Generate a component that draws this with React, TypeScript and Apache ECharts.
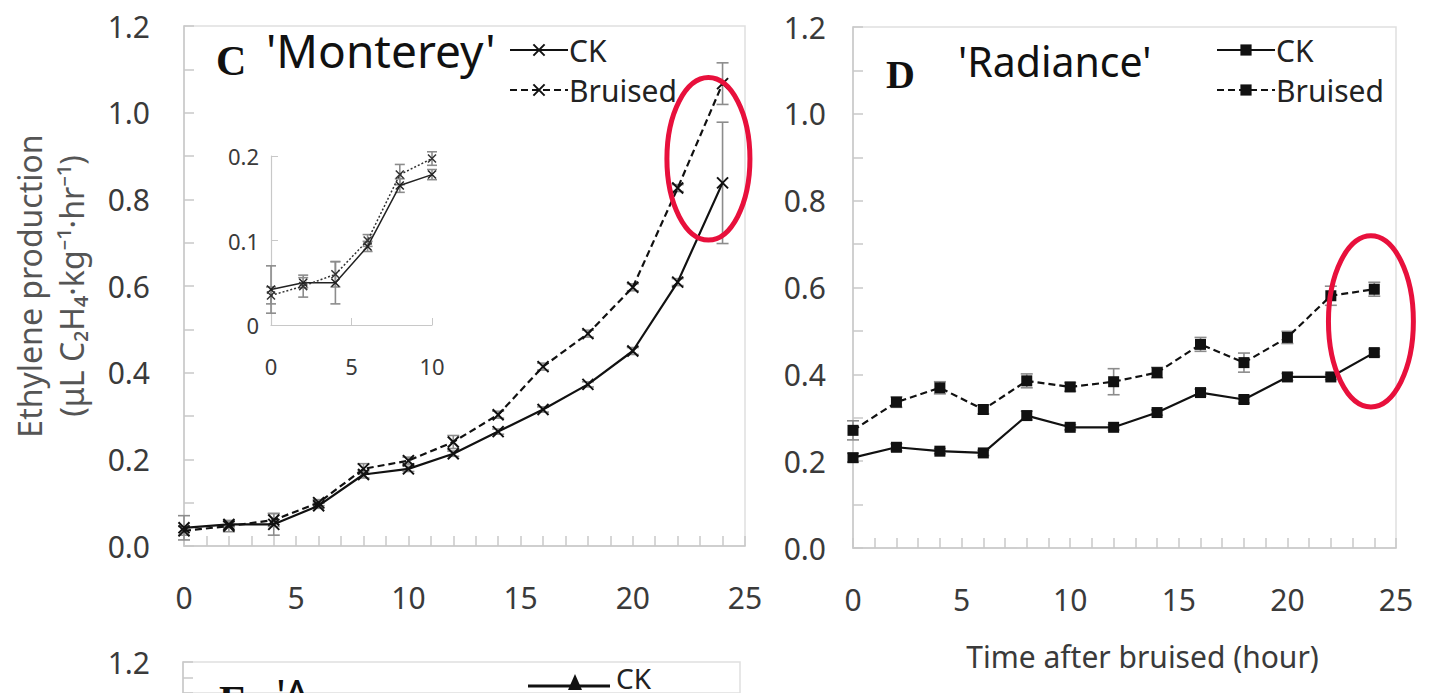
import React, { useEffect, useRef } from "react";
import * as echarts from "echarts";

const hours = [0, 2, 4, 6, 8, 10, 12, 14, 16, 18, 20, 22, 24];
const monCK = [0.042, 0.05, 0.05, 0.093, 0.165, 0.178, 0.213, 0.264, 0.315, 0.373, 0.45, 0.609, 0.838];
const monBr = [0.035, 0.046, 0.06, 0.1, 0.178, 0.197, 0.24, 0.303, 0.414, 0.49, 0.597, 0.826, 1.067];
const monCKErr = [0.028, 0.006, 0.025, 0.006, 0.008, 0.006, 0.006, 0.006, 0.006, 0.006, 0.008, 0.008, 0.14];
const monBrErr = [0.01, 0.013, 0.015, 0.007, 0.012, 0.008, 0.015, 0.008, 0.008, 0.008, 0.008, 0.008, 0.048];
const radCK = [0.208, 0.232, 0.223, 0.219, 0.305, 0.278, 0.278, 0.312, 0.358, 0.342, 0.394, 0.394, 0.45];
const radBr = [0.271, 0.336, 0.369, 0.319, 0.385, 0.371, 0.383, 0.404, 0.469, 0.427, 0.485, 0.581, 0.596];
const radCKErr = [0.01, 0.008, 0.006, 0.006, 0.01, 0.006, 0.006, 0.006, 0.008, 0.008, 0.008, 0.006, 0.008];
const radBrErr = [0.022, 0.012, 0.014, 0.01, 0.016, 0.01, 0.03, 0.012, 0.016, 0.022, 0.014, 0.022, 0.016];
const insetCount = 6; // inset shows hours 0..10
const yTicksMain = [0, 0.2, 0.4, 0.6, 0.8, 1.0, 1.2];
const legendNames = ["CK", "Bruised"];

const FONT = "Noto Sans";
const CROSS = "path://M0,0L10,10M10,0L0,10";

const pairs = (xs: number[], ys: number[]) => xs.map((x, i) => [x, ys[i]]);
const errs = (xs: number[], ys: number[], es: number[]) => xs.map((x, i) => [x, ys[i] - es[i], ys[i] + es[i]]);

const errRender = (cap: number) => (params: any, api: any) => {
  const x = api.value(0);
  const p1 = api.coord([x, api.value(1)]);
  const p2 = api.coord([x, api.value(2)]);
  const st = { stroke: "#8c8c8c", lineWidth: 1.6 };
  return {
    type: "group",
    children: [
      { type: "line", shape: { x1: p1[0], y1: p1[1], x2: p2[0], y2: p2[1] }, style: st },
      { type: "line", shape: { x1: p1[0] - cap, y1: p1[1], x2: p1[0] + cap, y2: p1[1] }, style: st },
      { type: "line", shape: { x1: p2[0] - cap, y1: p2[1], x2: p2[0] + cap, y2: p2[1] }, style: st },
    ],
  };
};

const axisGrey = "#c8c8c8";
const labelColor = "#3a3a3a";

function mainX(gridIndex: number, extra: any = {}) {
  return {
    type: "value",
    gridIndex,
    min: 0,
    max: 25,
    interval: 5,
    axisLine: { show: true, lineStyle: { color: axisGrey, width: 1.5 } },
    axisTick: { show: true, inside: true, length: 10, lineStyle: { color: axisGrey, width: 1.5 } },
    minorTick: { show: true, splitNumber: 5, length: 10, lineStyle: { color: axisGrey, width: 1.5 } },
    splitLine: { show: false },
    axisLabel: { fontSize: 30, fontFamily: FONT, color: labelColor, margin: 36 },
    ...extra,
  };
}

function mainY(gridIndex: number, margin: number, extra: any = {}) {
  return {
    type: "value",
    gridIndex,
    min: 0,
    max: 1.2,
    interval: 0.2,
    axisLine: { show: true, lineStyle: { color: axisGrey, width: 1.5 } },
    axisTick: { show: true, inside: true, length: 10, lineStyle: { color: axisGrey, width: 1.5 } },
    minorTick: { show: true, splitNumber: 2, length: 10, lineStyle: { color: axisGrey, width: 1.5 } },
    splitLine: { show: false },
    axisLabel: {
      fontSize: 30,
      fontFamily: FONT,
      color: labelColor,
      margin,
      formatter: (v: number) => (yTicksMain.some((t) => Math.abs(t - v) < 1e-9) ? v.toFixed(1) : ""),
    },
    ...extra,
  };
}

export default function App() {
  const ref = useRef<HTMLDivElement>(null);
  useEffect(() => {
    if (!ref.current) return;
    const chart = echarts.init(ref.current, undefined, { renderer: "svg" });
    const insetHours = hours.slice(0, insetCount);
    const option: any = {
      animation: false,
      backgroundColor: "#ffffff",
      grid: [
        { left: 184, top: 26, width: 561, height: 520, show: true, borderColor: "#e0e0e0", borderWidth: 1.5 },
        { left: 853, top: 27, width: 543, height: 521, show: true, borderColor: "#e0e0e0", borderWidth: 1.5 },
        { left: 271, top: 156, width: 161, height: 169 },
        { left: 183, top: 662, width: 557, height: 86, show: true, borderColor: "#e0e0e0", borderWidth: 1.5 },
      ],
      xAxis: [
        mainX(0),
        mainX(1, {
          name: "Time after bruised (hour)",
          nameLocation: "middle",
          nameGap: 93,
          nameTextStyle: { fontSize: 30, fontFamily: FONT, color: labelColor, padding: [0, 0, 0, 36] },
        }),
        {
          type: "value",
          gridIndex: 2,
          min: 0,
          max: 10,
          interval: 5,
          axisLine: { show: true, lineStyle: { color: axisGrey, width: 1.2 } },
          axisTick: { show: true, inside: true, length: 7, lineStyle: { color: axisGrey } },
          splitLine: { show: false },
          axisLabel: { fontSize: 22, fontFamily: FONT, color: labelColor, margin: 30 },
        },
        { type: "value", gridIndex: 3, min: 0, max: 25, show: false },
      ],
      yAxis: [
        mainY(0, 34, {
          name: "Ethylene production\n(μL C₂H₄·kg⁻¹·hr⁻¹)",
          nameLocation: "middle",
          nameRotate: 90,
          nameGap: 92,
          nameTextStyle: { fontSize: 32, fontFamily: FONT, color: "#555", lineHeight: 42 },
        }),
        mainY(1, 27),
        {
          type: "value",
          gridIndex: 2,
          min: 0,
          max: 0.2,
          interval: 0.1,
          axisLine: { show: true, lineStyle: { color: axisGrey, width: 1.2 } },
          axisTick: { show: true, inside: true, length: 7, lineStyle: { color: axisGrey } },
          splitLine: { show: false },
          axisLabel: {
            fontSize: 22,
            fontFamily: FONT,
            color: labelColor,
            margin: 12,
            formatter: (v: number) => (v === 0 ? "0" : v.toFixed(1)),
          },
        },
        mainY(3, 33, {
          min: 1.0,
          max: 1.2,
          axisLabel: {
            fontSize: 30,
            fontFamily: FONT,
            color: labelColor,
            margin: 33,
            formatter: (v: number) => (Math.abs(v - 1.2) < 1e-9 ? "1.2" : ""),
          },
        }),
      ],
      legend: [
        {
          data: ["CK-C", "Bruised-C"],
          orient: "vertical",
          left: 504,
          top: 30,
          itemWidth: 58,
          itemHeight: 14,
          itemGap: 10,
          formatter: (n: string) => n.split("-")[0],
          textStyle: { fontSize: 30, fontFamily: FONT, color: "#222", padding: [0, 0, 0, -4] },
          selectedMode: false,
        },
        {
          data: ["CK-D", "Bruised-D"],
          orient: "vertical",
          left: 1211,
          top: 30,
          itemWidth: 58,
          itemHeight: 14,
          itemGap: 10,
          formatter: (n: string) => n.split("-")[0],
          textStyle: { fontSize: 30, fontFamily: FONT, color: "#222", padding: [0, 0, 0, -4] },
          selectedMode: false,
        },
      ],
      series: [
        {
          type: "custom", name: "errC1", xAxisIndex: 0, yAxisIndex: 0, z: 1,
          data: errs(hours, monCK, monCKErr), renderItem: errRender(6),
        },
        {
          type: "custom", name: "errC2", xAxisIndex: 0, yAxisIndex: 0, z: 1,
          data: errs(hours, monBr, monBrErr), renderItem: errRender(6),
        },
        {
          type: "line", name: `${legendNames[0]}-C`, xAxisIndex: 0, yAxisIndex: 0, z: 3,
          data: pairs(hours, monCK), symbol: CROSS, symbolSize: 11,
          lineStyle: { color: "#111", width: 2.2 },
          itemStyle: { color: "#111", borderColor: "#111", borderWidth: 2 },
        },
        {
          type: "line", name: `${legendNames[1]}-C`, xAxisIndex: 0, yAxisIndex: 0, z: 3,
          data: pairs(hours, monBr), symbol: CROSS, symbolSize: 11,
          lineStyle: { color: "#111", width: 2.2, type: [7, 4] },
          itemStyle: { color: "#111", borderColor: "#111", borderWidth: 2 },
        },
        {
          type: "custom", name: "errD1", xAxisIndex: 1, yAxisIndex: 1, z: 1,
          data: errs(hours, radCK, radCKErr), renderItem: errRender(6),
        },
        {
          type: "custom", name: "errD2", xAxisIndex: 1, yAxisIndex: 1, z: 1,
          data: errs(hours, radBr, radBrErr), renderItem: errRender(6),
        },
        {
          type: "line", name: `${legendNames[0]}-D`, xAxisIndex: 1, yAxisIndex: 1, z: 3,
          data: pairs(hours, radCK), symbol: "rect", symbolSize: 11,
          lineStyle: { color: "#111", width: 2.2 },
          itemStyle: { color: "#111" },
        },
        {
          type: "line", name: `${legendNames[1]}-D`, xAxisIndex: 1, yAxisIndex: 1, z: 3,
          data: pairs(hours, radBr), symbol: "rect", symbolSize: 11,
          lineStyle: { color: "#111", width: 2.2, type: [7, 4] },
          itemStyle: { color: "#111" },
        },
        {
          type: "custom", name: "errI1", xAxisIndex: 2, yAxisIndex: 2, z: 1,
          data: errs(insetHours, monCK.slice(0, insetCount), monCKErr.slice(0, insetCount)), renderItem: errRender(5),
        },
        {
          type: "custom", name: "errI2", xAxisIndex: 2, yAxisIndex: 2, z: 1,
          data: errs(insetHours, monBr.slice(0, insetCount), monBrErr.slice(0, insetCount)), renderItem: errRender(5),
        },
        {
          type: "line", name: "CK-i", xAxisIndex: 2, yAxisIndex: 2, z: 3,
          data: pairs(insetHours, monCK.slice(0, insetCount)), symbol: CROSS, symbolSize: 8,
          lineStyle: { color: "#222", width: 1.5 },
          itemStyle: { color: "#222", borderColor: "#222", borderWidth: 1.5 },
        },
        {
          type: "line", name: "Bruised-i", xAxisIndex: 2, yAxisIndex: 2, z: 3,
          data: pairs(insetHours, monBr.slice(0, insetCount)), symbol: CROSS, symbolSize: 8,
          lineStyle: { color: "#333", width: 1.5, type: [2, 2] },
          itemStyle: { color: "#333", borderColor: "#333", borderWidth: 1.5 },
        },
      ],
    };
    chart.setOption(option);

    const ell = (gi: number, a: number[], b: number[]) => {
      const p = chart.convertToPixel({ gridIndex: gi }, a) as number[];
      const q = chart.convertToPixel({ gridIndex: gi }, b) as number[];
      return {
        type: "ellipse",
        z: 10,
        shape: { cx: (p[0] + q[0]) / 2, cy: (p[1] + q[1]) / 2, rx: Math.abs(q[0] - p[0]) / 2, ry: Math.abs(q[1] - p[1]) / 2 },
        style: { fill: "none", stroke: "#e8103c", lineWidth: 5 },
      };
    };

    chart.setOption({
      graphic: [
        { type: "text", left: 216, top: 40, style: { text: "C", font: "bold 42px 'Liberation Serif'", fill: "#111" } },
        { type: "text", left: 266, top: 27, style: { text: "'Monterey'", font: `46px '${FONT}'`, fill: "#111" } },
        { type: "text", left: 886, top: 54, style: { text: "D", font: "bold 40px 'Liberation Serif'", fill: "#111" } },
        { type: "text", left: 958, top: 40, style: { text: "'Radiance'", font: `41px '${FONT}'`, fill: "#111" } },
        { type: "text", left: 219, top: 680, style: { text: "E", font: "bold 42px 'Liberation Serif'", fill: "#111" } },
        { type: "text", left: 276, top: 672, style: { text: "'A", font: `44px '${FONT}'`, fill: "#111" } },
        { type: "line", shape: { x1: 528, y1: 686, x2: 610, y2: 686 }, style: { stroke: "#111", lineWidth: 3 } },
        { type: "polygon", shape: { points: [[575, 674], [568, 690], [582, 690]] }, style: { fill: "#111" } },
        { type: "text", left: 616, top: 664, style: { text: "CK", font: `28px '${FONT}'`, fill: "#222" } },
        ell(0, [21.52, 1.081], [25.22, 0.706]),
        ell(1, [21.89, 0.719], [25.8, 0.325]),
      ],
    });

    return () => chart.dispose();
  }, []);
  return <div ref={ref} style={{ position: "fixed", left: 0, top: 0, width: 1436, height: 693 }} />;
}
